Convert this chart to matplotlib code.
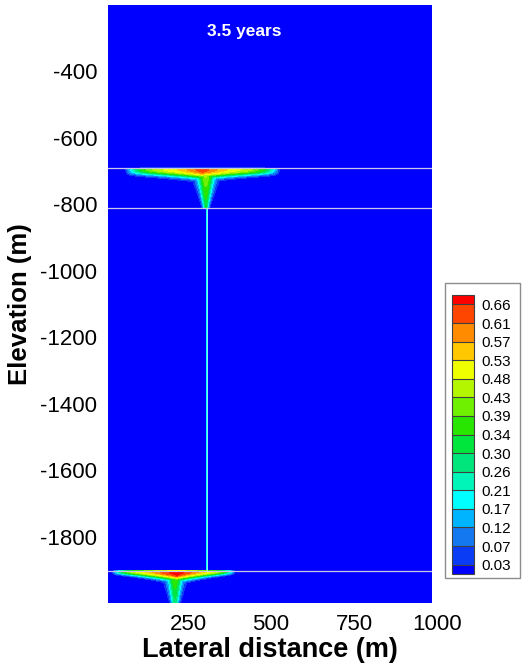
import numpy as np
import matplotlib
matplotlib.use('Agg')
import matplotlib.pyplot as plt
from matplotlib.patches import Rectangle
from matplotlib.transforms import ScaledTranslation

plt.rcParams['font.family'] = ['Liberation Sans', 'DejaVu Sans']
plt.rcParams['axes.unicode_minus'] = False

# contour levels and band colours (under, 15 bands..., over)
levels = [0.03, 0.07, 0.12, 0.17, 0.21, 0.26, 0.30, 0.34, 0.39, 0.43, 0.48, 0.53, 0.57, 0.61, 0.66]
band_colors = ['#0000ff', '#0a3cf5', '#1478f0', '#00b4ff', '#00ffff', '#00f5b9', '#00e67d',
               '#00e63c', '#28e600', '#6ef000', '#b4f500', '#f0ff00', '#ffc800', '#ff8c00',
               '#ff4600', '#ff0000']

xticks = [250, 500, 750, 1000]
yticks = [-1800, -1600, -1400, -1200, -1000, -800, -600, -400]

# fractures (m)
frac_elev = [-692, -810, -1903]
vfrac_x = 307
vfrac_top = -810
vfrac_bot = -1903
vfrac_conc = 0.19

# plume sheets spreading below the horizontal fractures
sheet_xc = [293, 216]
sheet_left = [233, 195]
sheet_right = [234, 176]
sheet_top = [-692, -1903]
sheet_peak = [0.65, 0.72]
sheet_thick = [30, 30]
sheet_thin = [17, 10]

# tails sinking under each sheet
tail_x = [304, 211]
tail_top = [-705, -1915]
tail_bot = [-812, -2000]
tail_w_top = [30, 26]
tail_w_bot = [7, 11]
tail_c_top = [0.45, 0.40]
tail_c_bot = [0.30, 0.28]

x = np.arange(10, 986, 1.5)
y = np.arange(-2000, -199, 1.5)
X, Y = np.meshgrid(x, y)
C = np.zeros_like(X)

for i in range(2):
    dx = X - sheet_xc[i]
    half = np.where(dx < 0, sheet_left[i], sheet_right[i])
    u = np.clip(np.abs(dx) / half, 0, 1)
    cx = sheet_peak[i] * (1 - 0.45 * u**0.8) * (1 - u**8)
    d = sheet_top[i] - Y
    h = sheet_thin[i] + (sheet_thick[i] - sheet_thin[i]) * (1 - u)**1.5
    cv = np.exp(-(np.clip(d, 0, None) / h)**3) * (d >= 0)
    C = np.maximum(C, cx * cv)

    s = np.clip((tail_top[i] - Y) / (tail_top[i] - tail_bot[i]), 0, 1)
    inside = (Y <= sheet_top[i]) & (Y >= tail_bot[i])
    w = tail_w_top[i] + (tail_w_bot[i] - tail_w_top[i]) * s
    ct = tail_c_top[i] + (tail_c_bot[i] - tail_c_top[i]) * s
    C = np.maximum(C, ct * np.exp(-((X - tail_x[i]) / w)**2) * inside)

col = (np.abs(X - vfrac_x) <= 2.5) & (Y <= vfrac_top) & (Y >= vfrac_bot)
C = np.where(col, np.maximum(C, vfrac_conc), C)

fig = plt.figure(figsize=(5.23, 6.65), dpi=100)
ax = fig.add_axes([0.2071, 0.0932, 0.6183, 0.8993])
cs = ax.contourf(X, Y, C, levels=levels, colors=band_colors, extend='both')
ax.set_xlim(10, 984)
ax.set_ylim(-2000, -200)

for e in frac_elev:
    ax.axhline(e, color='#c8c8e6', lw=0.9)
ax.plot([vfrac_x, vfrac_x], [vfrac_top, vfrac_bot], color='#9ef0f0', lw=0.6)

ax.text(419, -280, '3.5 years', color='white', fontweight='bold', fontsize=12.5,
        ha='center', va='center')

for sp in ax.spines.values():
    sp.set_visible(False)
ax.set_xticks(xticks[:-1])
ax.set_yticks(yticks)
ax.tick_params(length=0, labelsize=16, pad=8)
off = ScaledTranslation(0, -8 / 72, fig.dpi_scale_trans)
ax.text(xticks[-1], 0, str(xticks[-1]), transform=ax.get_xaxis_transform() + off,
        ha='center', va='top', fontsize=16, clip_on=False)
ax.set_xlabel('Lateral distance (m)', fontsize=19.5, fontweight='bold', labelpad=1)
ax.set_ylabel('Elevation (m)', fontsize=18.5, fontweight='bold', labelpad=6)

box = Rectangle((445 / 523, 1 - 578 / 665), 75 / 523, 295 / 665, transform=fig.transFigure,
                facecolor='white', edgecolor='#8c8c8c', lw=1, zorder=-1)
fig.add_artist(box)
cax = fig.add_axes([0.8642, 0.1368, 0.0421, 0.4195])
cb = fig.colorbar(cs, cax=cax, ticks=levels, extendrect=True, extendfrac=0.036,
                  drawedges=True, format='%.2f')
cb.outline.set_edgecolor('#404040')
cb.outline.set_linewidth(0.8)
cb.dividers.set_color('#404040')
cb.dividers.set_linewidth(0.8)
cb.ax.tick_params(length=0, labelsize=11, pad=5)

fig.savefig('out.png', dpi=100)
